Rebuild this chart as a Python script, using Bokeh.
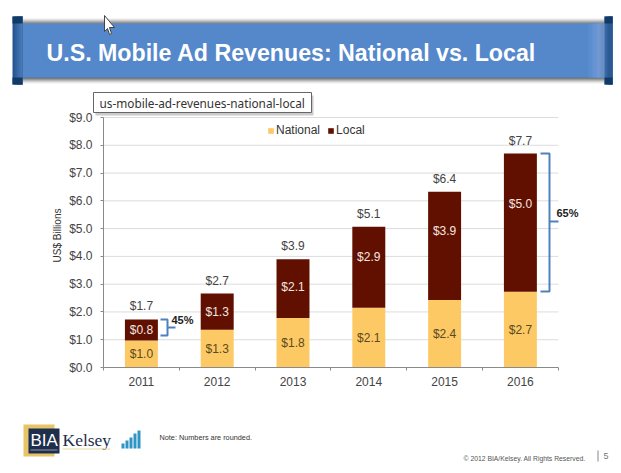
from bokeh.plotting import figure
from bokeh.embed import file_html
from bokeh.resources import INLINE
from bokeh.models import Range1d, FixedTicker, NumeralTickFormatter, Legend, LegendItem, ColumnDataSource
from bokeh.core.properties import value

years = ["2011", "2012", "2013", "2014", "2015", "2016"]
national = [0.97, 1.36, 1.78, 2.15, 2.43, 2.73]
local = [0.76, 1.30, 2.12, 2.92, 3.90, 4.97]
national_labels = ["$1.0", "$1.3", "$1.8", "$2.1", "$2.4", "$2.7"]
local_labels = ["$0.8", "$1.3", "$2.1", "$2.9", "$3.9", "$5.0"]
total_labels = ["$1.7", "$2.7", "$3.9", "$5.1", "$6.4", "$7.7"]
y_ticks = [0, 1, 2, 3, 4, 5, 6, 7, 8, 9]
local_label_shift = [0, 0, 2, 10, 15, 19]

W, H = 621, 473
# plot rectangle inside the page, in page pixels
PL, PR, PT, PB = 103.0, 557.8, 117.0, 367.0
FONT = "Liberation Sans"
NAT, LOC = "#fdc965", "#611000"
AXC = "#8a8a8a"

ux = (PR - PL) / 6
uy = (PB - PT) / 9
x_start = -0.5 - PL / ux
y_start = -(H - PB) / uy
p = figure(width=W, height=H, output_backend="svg", toolbar_location=None,
           x_range=Range1d(x_start, x_start + W / ux), y_range=Range1d(y_start, y_start + H / uy),
           min_border=0, background_fill_color="white", border_fill_color="white", outline_line_color=None)
p.extra_x_ranges["px"] = Range1d(0, W)
p.extra_y_ranges["px"] = Range1d(H, 0)
PX = dict(x_range_name="px", y_range_name="px")
p.grid.visible = False

xs = list(range(len(years)))
tops = [n + l for n, l in zip(national, local)]

# grid
p.segment(x0=-0.5, x1=5.5, y0=y_ticks[1:], y1=y_ticks[1:], line_color="#dcdcdc", line_width=1)

# axes
p.yaxis.fixed_location = -0.5
p.yaxis.bounds = (0, 9)
p.yaxis.ticker = FixedTicker(ticks=y_ticks)
p.yaxis.formatter = NumeralTickFormatter(format="$0.0")
p.yaxis.major_label_text_font = FONT
p.yaxis.major_label_text_font_size = "12px"
p.yaxis.major_label_text_color = "#444444"
p.yaxis.major_label_standoff = 8
p.yaxis.major_tick_in = 0
p.yaxis.major_tick_out = 3
p.yaxis.minor_tick_line_color = None
p.yaxis.axis_line_color = AXC
p.yaxis.major_tick_line_color = AXC

p.xaxis.fixed_location = 0
p.xaxis.bounds = (-0.5, 5.5)
p.xaxis.ticker = FixedTicker(ticks=xs, minor_ticks=[i - 0.5 for i in range(len(years) + 1)])
p.xaxis.major_label_overrides = {i: y for i, y in enumerate(years)}
p.xaxis.major_label_text_font = FONT
p.xaxis.major_label_text_font_size = "12px"
p.xaxis.major_label_text_color = "#444444"
p.xaxis.major_label_standoff = 6
p.xaxis.major_tick_line_color = None
p.xaxis.major_tick_in = 0
p.xaxis.major_tick_out = 0
p.xaxis.minor_tick_in = 0
p.xaxis.minor_tick_out = 3
p.xaxis.minor_tick_line_color = AXC
p.xaxis.axis_line_color = AXC

# bars
src = ColumnDataSource(dict(
    x=xs, national=national, local=local, top=tops,
    nat_mid=[n / 2 for n in national],
    loc_mid=[n + l / 2 for n, l in zip(national, local)],
    nat_lab=national_labels, loc_lab=local_labels, tot_lab=total_labels,
    shift=[-s for s in local_label_shift],
))
BW = 0.435
r_nat = p.vbar(x="x", bottom=0, top="national", width=BW, source=src, fill_color=NAT, line_color=None)
r_loc = p.vbar(x="x", bottom="national", top="top", width=BW, source=src, fill_color=LOC, line_color=None)

common = dict(source=src, text_align="center", text_baseline="middle",
              text_font=value(FONT), text_font_size="12px")
p.text(x="x", y="nat_mid", text="nat_lab", text_color="#5a4a20", **common)
p.text(x="x", y="loc_mid", text="loc_lab", text_color="#f3e6e0", y_offset="shift", **common)
p.text(x="x", y="top", text="tot_lab", text_color="#444444", y_offset=-13, **common)

legend = Legend(items=[LegendItem(label="National", renderers=[r_nat]),
                       LegendItem(label="Local", renderers=[r_loc])],
                orientation="horizontal", location=(267, H - 137), background_fill_alpha=0,
                border_line_color=None, glyph_width=7, glyph_height=7, label_text_font=FONT,
                label_text_font_size="12px", label_text_color="#333333", padding=0, margin=0,
                spacing=7, label_standoff=2, label_height=12)
p.add_layout(legend, "center")

# page furniture, in page pixels
def box(x0, y0, x1, y1, color, alpha=1.0, line=None):
    p.quad(left=[x0], right=[x1], top=[y0], bottom=[y1], fill_color=color, fill_alpha=alpha,
           line_color=line, **PX)

def text(x, y, s, size, color="#333333", font=FONT, style="normal", **kw):
    p.text(x=[x], y=[y], text=[s], text_font=value(font), text_font_size=f"{size}px", text_color=color,
           text_font_style=style, text_baseline="middle", **PX, **kw)

# brackets
BRK = "#4f81bd"
def bracket(xa, xb, xc, ya, yb, ym):
    p.line([xa, xb, xb, xa], [ya, ya, yb, yb], line_color=BRK, line_width=2, **PX)
    p.line([xb, xc], [ym, ym], line_color=BRK, line_width=2, **PX)
bracket(160, 167, 175, 319, 335, 327)
bracket(540, 549, 558, 153, 291, 221)
text(171, 319, "45%", 11, "#222222", style="bold")
text(556, 212, "65%", 11, "#222222", style="bold")

# y title
p.text(x=[57], y=[235], text=["US$ Billions"], angle=[1.5708], text_font=value(FONT), text_font_size="10px",
       text_color="#333333", text_align="center", text_baseline="middle", **PX)

# banner: each band is painted over the previous one so that no seam shows
for y0, c in ((18, "#ececec"), (19, "#d8d8d8"), (20, "#bfbfbf"), (21, "#a4a4a4"), (22, "#868a90")):
    box(22, y0, 604, 24, c)
for y1, c in ((83, "#f0f0f0"), (82, "#dcdcdc"), (81, "#c4c4c4"), (80, "#a8a8a8"), (79, "#8a8a8a"), (78, "#69727e")):
    box(22, 76, 604, y1, c)
box(22, 23, 604, 77, "#5488cb")
for x0, c in ((588, "#5b8ecf"), (592, "#6693d2"), (596, "#7198d2"), (600, "#6b90c6")):
    box(x0, 23, 604, 77, c)
for l, r, grad in ((12, 22, ("#275590", "#2f5f9c", "#3768a6", "#3f70ad", "#4678b4")),
                   (604, 612, ("#3a6aa6", "#31609a", "#2b5890", "#2a5a96"))):
    step = (r - l) / len(grad)
    for i, c in enumerate(grad):
        box(l + i * step, 16, r, 84, c)
    box(l, 16, r, 23, "#123a66")
    box(l, 77, r, 84, "#123a66")
text(46, 52, "U.S. Mobile Ad Revenues: National vs. Local", 23.2, "#ffffff", style="bold")

# cursor
p.patch([104, 104, 107, 109, 111, 109, 114], [15, 31, 28, 34, 33, 27, 27], fill_color="#ffffff",
        line_color="#444444", line_width=1, **PX)

# tooltip
box(95, 95, 313, 115, "#b5b5b5", 0.7)
box(93, 92, 311, 112, "#ffffff", line="#666666")
text(99, 102, "us-mobile-ad-revenues-national-local", 11.8, "#333333", font="Noto Sans")

# logo
box(23, 424, 54, 456, "#e8c468")
box(28, 428, 59, 453, "#1e2f4d")
box(30, 449, 57, 450, "#8f9aaa")
text(30, 440, "BIA", 17, "#ffffff")
text(62, 439, "Kelsey", 17.5, "#1e2f4d", font="Liberation Serif")
box(62, 448, 110, 449, "#e8d9a0")
for x0, top_y in ((121, 443), (125, 440), (129, 437), (133, 433), (137, 430)):
    box(x0, top_y, x0 + 3, 448, "#2f95c6")

text(159, 437, "Note:  Numbers  are rounded.", 7.3, "#333333")
text(463, 458, "\u00a9 2012 BIA/Kelsey. All Rights Reserved.", 6.8, "#555555")
box(597, 450, 598, 461, "#888888")
text(603, 455, "5", 9, "#777777")

open("out.html", "w").write(file_html(p, INLINE))
